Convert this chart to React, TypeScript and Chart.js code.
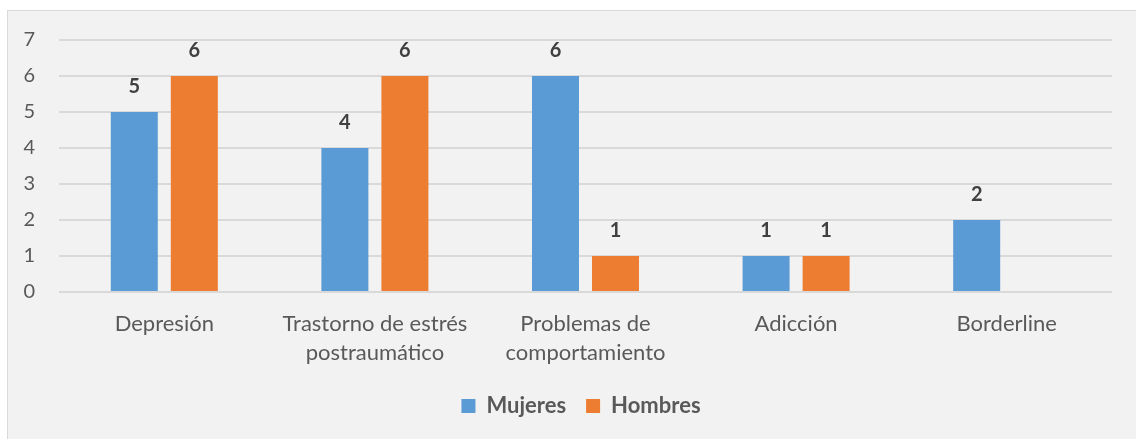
import React, { useEffect, useRef } from "react";
import { Chart, registerables } from "chart.js";

Chart.register(...registerables);

const categories: (string | string[])[] = [
  "Depresión",
  ["Trastorno de estrés", "postraumático"],
  ["Problemas de", "comportamiento"],
  "Adicción",
  "Borderline",
];
const mujeres: (number | null)[] = [5, 4, 6, 1, 2];
const hombres: (number | null)[] = [6, 6, 1, 1, null];
const yTicks = [0, 1, 2, 3, 4, 5, 6, 7];

const FONT = "Lato, 'Open Sans', sans-serif";

const dataLabels = {
  id: "dataLabels",
  afterDatasetsDraw(chart: any) {
    const ctx = chart.ctx;
    ctx.save();
    ctx.font = `bold 20px ${FONT}`;
    ctx.fillStyle = "#404040";
    ctx.textAlign = "center";
    ctx.textBaseline = "middle";
    chart.data.datasets.forEach((ds: any, i: number) => {
      const meta = chart.getDatasetMeta(i);
      meta.data.forEach((el: any, j: number) => {
        const v = ds.data[j];
        if (v === null || v === undefined) return;
        ctx.fillText(String(v), el.x, el.y - 25);
      });
    });
    ctx.restore();
  },
};

const legendShift = {
  id: "legendShift",
  afterLayout(chart: any) {
    if (chart.legend) {
      chart.legend.left += 21;
      chart.legend.right += 21;
    }
  },
};

export default function App() {
  const ref = useRef<HTMLCanvasElement>(null);
  useEffect(() => {
    if (!ref.current) return;
    const chart = new Chart(ref.current, {
      type: "bar",
      data: {
        labels: categories,
        datasets: [
          {
            label: "Mujeres",
            data: mujeres,
            backgroundColor: "#5b9bd5",
            categoryPercentage: 0.57,
            barPercentage: 0.783,
          },
          {
            label: "Hombres",
            data: hombres,
            backgroundColor: "#ed7d31",
            categoryPercentage: 0.57,
            barPercentage: 0.783,
          },
        ],
      },
      options: {
        animation: false,
        responsive: false,
        maintainAspectRatio: false,
        layout: { padding: { left: 0, right: 24, top: 29, bottom: 12 } },
        plugins: {
          tooltip: { enabled: false },
          legend: {
            position: "bottom",
            labels: {
              boxWidth: 14,
              boxHeight: 14,
              padding: 20,
              color: "#595959",
              font: { family: FONT, size: 22, weight: "bold" },
            },
          },
        },
        scales: {
          x: {
            grid: { display: false, drawTicks: false },
            border: { display: false },
            ticks: {
              color: "#595959",
              padding: 17,
              maxRotation: 0,
              autoSkip: false,
              font: { family: FONT, size: 22, lineHeight: "29px" },
            },
            afterFit(scale: any) {
              scale.height = 83;
            },
          },
          y: {
            min: 0,
            max: 7,
            grid: { color: "#d9d9d9", lineWidth: 2, drawTicks: false },
            border: { display: false },
            ticks: {
              stepSize: 1,
              padding: 24,
              color: "#595959",
              font: { family: FONT, size: 20 },
              callback: (v: any) => (yTicks.includes(Number(v)) ? String(v) : ""),
            },
            afterFit(scale: any) {
              scale.width = 51;
              scale.paddingTop = 0;
              scale.paddingBottom = 0;
            },
          },
        },
      },
      plugins: [dataLabels, legendShift],
    });
    return () => chart.destroy();
  }, []);

  return (
    <div
      style={{
        position: "fixed",
        left: 7,
        top: 10,
        width: 1129,
        height: 429,
        boxSizing: "border-box",
        borderLeft: "1px solid #d9d9d9",
        borderTop: "1px solid #d9d9d9",
        background: "#f2f2f2",
      }}
    >
      <canvas ref={ref} width={1128} height={428} style={{ display: "block" }} />
    </div>
  );
}
